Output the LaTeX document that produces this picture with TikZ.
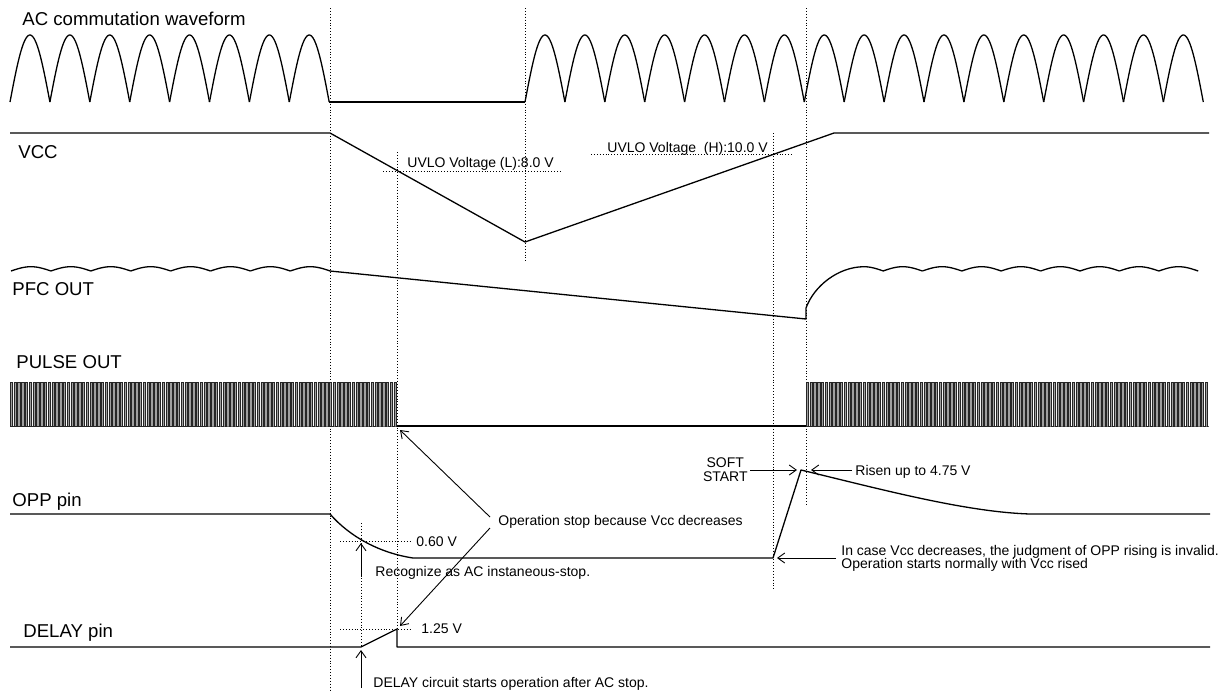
\documentclass[tikz,border=0pt]{standalone}
\usepackage{fontspec}
\setmainfont{Liberation Sans}
\usetikzlibrary{arrows.meta}

\begin{document}
\begin{tikzpicture}[x=0.5pt,y=-0.5pt,
    wave/.style={line width=0.65pt,line join=round},
    guide/.style={densely dotted,line width=0.45pt},
    pulse/.style={line width=0.3pt,draw=black!85,fill=gray!75},
    callout/.style={line width=0.45pt,-{Straight Barb[length=3.5pt,width=5pt]}},
    sig/.style={inner sep=0pt,anchor=base west,font=\fontsize{9.3}{11}\selectfont},
    annot/.style={inner sep=0pt,anchor=base west,font=\fontsize{7}{7}\selectfont}]
  \useasboundingbox (0,0) rectangle (1228,691);

  % timing guides
  \draw[guide] (330,8) -- (330,691);
  \draw[guide] (525,8) -- (525,262);
  \draw[guide] (806,8) -- (806,504);
  \draw[guide] (397,152) -- (397,629);
  \draw[guide] (773,133) -- (773,590);
  \draw[guide] (361,523) -- (361,647);
  \draw[guide] (383,171) -- (560,171);
  \draw[guide] (591,154) -- (792,154);
  \draw[guide] (340,541) -- (410,541);
  \draw[guide] (340,629) -- (410,629);

  % signal names
  \node[sig] (acl) at (22,25) {AC commutation waveform};
  \node[sig] (vccl) at (18,158) {VCC};
  \node[sig] (pfcl) at (12,295) {PFC OUT};
  \node[sig] (pulsel) at (16,368) {PULSE OUT};
  \node[sig] (oppl) at (12,506) {OPP pin};
  \node[sig] (delayl) at (23,637) {DELAY pin};

  % AC commutation waveform
  \foreach \i in {0,...,7}
    \draw[wave] plot[domain=0:180,samples=40,variable=\t] ({10+39.9*(\i+\t/180)},{102-67*sin(\t)});
  \draw[wave] (329.2,102) -- (525,102);
  \foreach \i in {0,...,16}
    \draw[wave] plot[domain=0:180,samples=40,variable=\t] ({525+39.9*(\i+\t/180)},{102-67*sin(\t)});

  % VCC
  \draw[wave] (10,133) -- (330,133) -- (525,242) -- (834,133) -- (1209,133);

  % PFC OUT
  \foreach \i in {0,...,7}
    \draw[wave] plot[domain=0:180,samples=20,variable=\t] ({11+39.9*(\i+\t/180)},{271-4.3*sin(\t)});
  \draw[wave] (330,271) -- (806,319) -- (806,308) .. controls (814,286) and (838,267) .. (863.7,266.7)
    -- plot[domain=90:180,samples=12,variable=\t] ({844+39.4*\t/180},{271-4.3*sin(\t)});
  \foreach \i in {0,...,7}
    \draw[wave] plot[domain=0:180,samples=20,variable=\t] ({883+39.4*(\i+\t/180)},{271-4.3*sin(\t)});

  % PULSE OUT
  \draw[pulse] (10,426) \foreach \i in {1,...,102} { -- ++(0,-44) -- ++(2.5,0) -- ++(0,44) -- ++(1.3,0) } -- cycle;
  \draw[wave] (397,426) -- (806,426);
  \draw[pulse] (806,426) \foreach \i in {1,...,106} { -- ++(0,-44) -- ++(2.5,0) -- ++(0,44) -- ++(1.3,0) } -- cycle;

  % OPP pin
  \draw[wave] (10,514) -- (330,514) .. controls (350,537) and (380,553) .. (413,558) -- (773,558)
    -- (801,470) .. controls (880,489) and (965,512) .. (1030,514) -- (1210,514);

  % DELAY pin
  \draw[wave] (10,647) -- (361,647) -- (397,629) -- (397,647) -- (1210,647);

  % levels and remarks
  \node[annot] (uvlol) at (407,167) {UVLO Voltage (L):8.0 V};
  \node[annot] (uvloh) at (607,152) {UVLO Voltage\ \ (H):10.0 V};
  \node[annot] (th60) at (416,546) {0.60 V};
  \node[annot] (th125) at (421,633) {1.25 V};
  \node[annot] (recog) at (375,576) {Recognize as AC instaneous-stop.};
  \node[annot] (dlytxt) at (373,687) {DELAY circuit starts operation after AC stop.};
  \node[annot] (opstop) at (498,525) {Operation stop because Vcc decreases};
  \node[annot,anchor=east,align=center] (soft) at (748,470) {SOFT\\START};
  \node[annot] (risen) at (855,475) {Risen up to 4.75 V};
  \node[annot] (incase) at (841,555) {In case Vcc decreases, the judgment of OPP rising is invalid.};
  \node[annot] (incaseb) at (841,568) {Operation starts normally with Vcc rised};

  \coordinate (cross60) at (361,543);
  \coordinate (dlystart) at (361,650);
  \coordinate (pulsestop) at (400,430);
  \coordinate (dlystop) at (400,626);
  \coordinate (peakl) at (797,470);
  \coordinate (peakr) at (811,470);
  \coordinate (oppmin) at (777,558);

  \draw[callout] (recog.base west) ++(-14,1) -- (cross60);
  \draw[callout] (dlytxt.base west) ++(-12,1) -- (dlystart);
  \draw[callout] (opstop.base west) ++(-8,-8) -- (pulsestop);
  \draw[callout] (opstop.base west) ++(-8,3) -- (dlystop);
  \draw[callout] (soft.east) ++(2,0) -- (peakl);
  \draw[callout] (risen.base west) ++(-3,-5) -- (peakr);
  \draw[callout] (incase.base west) ++(-5,3) -- (oppmin);
\end{tikzpicture}
\end{document}
